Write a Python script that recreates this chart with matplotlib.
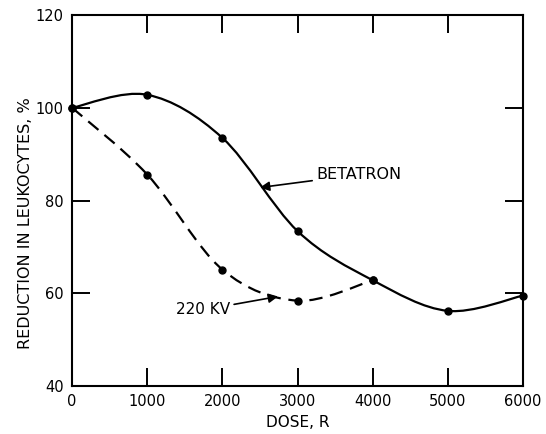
import numpy as np
import matplotlib
matplotlib.use('Agg')
import matplotlib.pyplot as plt
from matplotlib.path import Path
from matplotlib.patches import PathPatch

plt.rcParams['font.family'] = ['DejaVu Sans']

# data
dose_betatron = [0, 1000, 2000, 3000, 4000, 5000, 6000]
betatron = [100, 102.8, 93.5, 73.4, 62.8, 56.2, 59.5]
dose_kv = [0, 1000, 2000, 3000, 4000]
kv220 = [100, 85.6, 65.1, 58.4, 62.8]
x_ticks = [0, 1000, 2000, 3000, 4000, 5000, 6000]
y_ticks = [40, 60, 80, 100, 120]


def smooth_path(xs, ys):
    # catmull-rom through the points, drawn as bezier segments
    pts = np.column_stack([xs, ys]).astype(float)
    ext = np.vstack([pts[0], pts, pts[-1]])
    verts = [pts[0]]
    codes = [Path.MOVETO]
    for i in range(1, len(ext) - 2):
        p0, p1, p2, p3 = ext[i - 1], ext[i], ext[i + 1], ext[i + 2]
        verts += [p1 + (p2 - p0) / 6, p2 - (p3 - p1) / 6, p2]
        codes += [Path.CURVE4] * 3
    return Path(verts, codes)


fig = plt.figure(figsize=(5.46, 4.34), dpi=100)
ax = fig.add_axes([0.132, 0.1106, 0.826, 0.8548])

ax.add_patch(PathPatch(smooth_path(dose_betatron, betatron), fill=False,
                       lw=1.6, color='black'))
ax.add_patch(PathPatch(smooth_path(dose_kv, kv220), fill=False, lw=1.6,
                       color='black', linestyle=(0, (6, 3.5))))
ax.plot(dose_betatron, betatron, 'o', color='black', ms=5, clip_on=False)
ax.plot(dose_kv, kv220, 'o', color='black', ms=5, clip_on=False)

ax.annotate('BETATRON', xy=(2500, 82.8), xytext=(3250, 85.6),
            fontsize=11.5, va='center', ha='left',
            arrowprops=dict(arrowstyle='-|>', color='black', lw=1.2,
                            mutation_scale=14, shrinkA=1, shrinkB=0))
ax.annotate('220 KV', xy=(2740, 59.3), xytext=(2100, 56.4),
            fontsize=11, va='center', ha='right',
            arrowprops=dict(arrowstyle='-|>', color='black', lw=1.2,
                            mutation_scale=14, shrinkA=1, shrinkB=0))

ax.set_xlim(0, 6000)
ax.set_ylim(40, 120)
ax.set_xticks(x_ticks)
ax.set_yticks(y_ticks)
ax.tick_params(direction='in', length=13, width=1.4, top=True, right=True,
               labelsize=10.5, pad=6)
for s in ax.spines.values():
    s.set_linewidth(1.5)
ax.set_xlabel('DOSE, R', fontsize=11, labelpad=4)
ax.set_ylabel('REDUCTION IN LEUKOCYTES, %', fontsize=11.5)
ax.yaxis.set_label_coords(-0.087, 0.44)

fig.savefig('out.png', dpi=100)
